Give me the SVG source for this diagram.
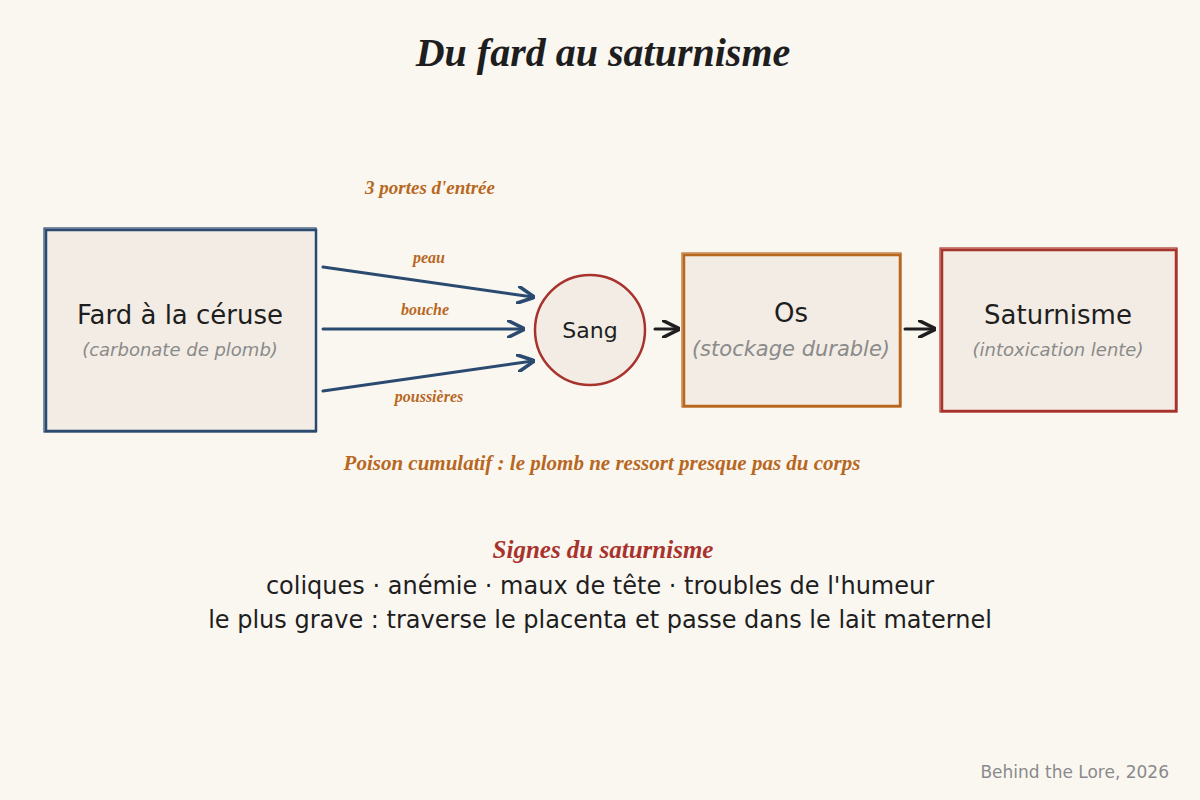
<svg xmlns="http://www.w3.org/2000/svg" width="1200" height="800" viewBox="0 0 1200 800">
<defs>
<style>
.hand{font-family:"Liberation Serif",serif;font-style:italic;font-weight:bold}
.t{font-family:"DejaVu Sans",sans-serif;fill:#1e1e1e}
.sub{font-family:"DejaVu Sans",sans-serif;font-style:italic;fill:#8a8a8a}
.box{fill:#f2ece4}
</style>
<marker id="ab" viewBox="0 0 10 10" refX="9" refY="5" markerWidth="6" markerHeight="6" orient="auto"><path d="M0,0 L10,5 L0,10" fill="none" stroke="#2b4a6f" stroke-width="2"/></marker>
<marker id="ak" viewBox="0 0 10 10" refX="9" refY="5" markerWidth="6" markerHeight="6" orient="auto"><path d="M0,0 L10,5 L0,10" fill="none" stroke="#1e1e1e" stroke-width="2"/></marker>
</defs>
<rect width="1200" height="800" fill="#faf7f1"/>
<text class="hand" x="603" y="66" font-size="40" text-anchor="middle" fill="#1e1e1e">Du fard au saturnisme</text>
<text class="hand" x="430" y="194" font-size="19" text-anchor="middle" fill="#b8671f">3 portes d'entrée</text>
<g id="fard">
<rect class="box" x="46" y="230" width="270" height="201" stroke="#2b4a6f" stroke-width="2.5"/>
<rect x="44" y="228" width="272" height="204" fill="none" stroke="#2b4a6f" stroke-width="1.2"/>
<text class="t" x="180" y="324" font-size="26" text-anchor="middle">Fard à la céruse</text>
<text class="sub" x="180" y="356" font-size="18" text-anchor="middle">(carbonate de plomb)</text>
</g>
<g id="sang">
<circle cx="590" cy="330" r="55" fill="#f2ece4" stroke="#a8322c" stroke-width="2.5"/>
<text class="t" x="590" y="338" font-size="22" text-anchor="middle">Sang</text>
</g>
<g id="os">
<rect class="box" x="684" y="255" width="216" height="151" stroke="#b8671f" stroke-width="2.5"/>
<rect x="682" y="253" width="219" height="154" fill="none" stroke="#b8671f" stroke-width="1.2"/>
<text class="t" x="791" y="322" font-size="26" text-anchor="middle">Os</text>
<text class="sub" x="791" y="356" font-size="21" text-anchor="middle">(stockage durable)</text>
</g>
<g id="saturnisme">
<rect class="box" x="942" y="250" width="234" height="161" stroke="#a8322c" stroke-width="2.5"/>
<rect x="940" y="248" width="237" height="164" fill="none" stroke="#a8322c" stroke-width="1.2"/>
<text class="t" x="1058" y="324" font-size="26" text-anchor="middle">Saturnisme</text>
<text class="sub" x="1058" y="356" font-size="18" text-anchor="middle">(intoxication lente)</text>
</g>
<g id="connectors" fill="none" stroke-width="3" stroke-linecap="round">
<path d="M323,267 L533,297" stroke="#2b4a6f" marker-end="url(#ab)"/>
<path d="M323,329 L523,329" stroke="#2b4a6f" marker-end="url(#ab)"/>
<path d="M323,391 L533,361" stroke="#2b4a6f" marker-end="url(#ab)"/>
<path d="M655,329 L678,329" stroke="#1e1e1e" marker-end="url(#ak)"/>
<path d="M905,329 L934,329" stroke="#1e1e1e" marker-end="url(#ak)"/>
</g>
<g class="hand" font-size="16" fill="#b8671f" text-anchor="middle">
<text x="429" y="263">peau</text>
<text x="425" y="315">bouche</text>
<text x="429" y="402">poussières</text>
</g>
<text class="hand" x="602" y="470" font-size="21" text-anchor="middle" fill="#b8671f">Poison cumulatif : le plomb ne ressort presque pas du corps</text>
<text class="hand" x="603" y="558" font-size="25" text-anchor="middle" fill="#a8322c">Signes du saturnisme</text>
<text class="t" x="600" y="594" font-size="24" text-anchor="middle">coliques · anémie · maux de tête · troubles de l'humeur</text>
<text class="t" x="600" y="628" font-size="24" text-anchor="middle">le plus grave : traverse le placenta et passe dans le lait maternel</text>
<text x="1169" y="778" font-family="DejaVu Sans,sans-serif" font-size="17" fill="#8a8a8a" text-anchor="end">Behind the Lore, 2026</text>
</svg>
